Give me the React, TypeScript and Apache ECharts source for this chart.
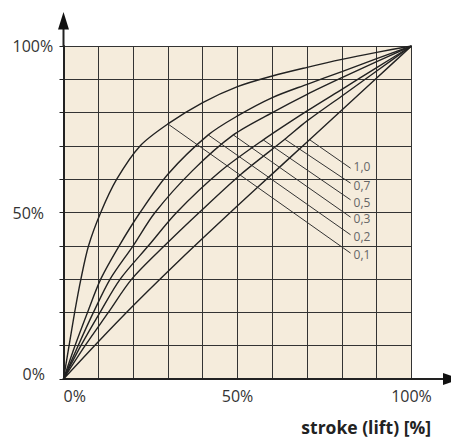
import React, { useEffect, useRef } from "react";
import * as echarts from "echarts";

// Curve values: [stroke %, flow %]
const curve10 = [[0, 0], [10, 11.2], [20, 22], [30, 32.3], [40, 42.3], [50, 52], [60, 61.6], [70, 71.2], [80, 80.8], [90, 90.4], [100, 100]];
const curve07 = [[0, 0], [6.2, 10], [12.9, 20], [19.6, 30], [29, 40], [39, 50], [51, 61.5], [63.6, 72], [70, 77.5], [80, 85], [90, 92.5], [100, 100]];
const curve05 = [[0, 0], [5, 10], [10.5, 20], [16.3, 30], [24.4, 40], [32.5, 50], [45, 62.3], [57.4, 71.8], [70, 80.5], [80, 87], [90, 93.5], [100, 100]];
const curve03 = [[0, 0], [4.2, 10], [8.6, 20], [13.4, 30], [20, 40], [26.3, 50], [37, 62.5], [48.8, 73.3], [60, 80], [70, 85.5], [80, 90.5], [90, 95.3], [100, 100]];
const curve02 = [[0, 0], [3.3, 10], [6.9, 20], [10.7, 30], [16, 40], [22, 50], [30, 61.5], [41.6, 73.3], [50, 79], [60, 84.5], [70, 88.5], [80, 92.3], [90, 96.2], [100, 100]];
const curve01 = [[0, 0], [1.6, 10], [3.2, 20], [5.0, 30], [7.2, 40], [10.7, 50], [15.3, 60], [22, 70], [30, 76.6], [40, 83], [50, 87.8], [60, 91], [70, 93.6], [80, 96], [90, 98.1], [100, 100]];

const curveLabels = ["1,0", "0,7", "0,5", "0,3", "0,2", "0,1"];
const curves = [curve10, curve07, curve05, curve03, curve02, curve01];

// Leader lines: start on curve, end at label
const leaderStarts = [[70.8, 71.8], [63.6, 72.0], [57.4, 71.8], [48.8, 73.3], [41.6, 73.3], [30, 76.6]];
const leaderEnds = [[82.5, 63.3], [82.5, 58.8], [82.5, 53.8], [82.5, 48.6], [82.5, 43.3], [82.5, 37.8]];
const labelShiftY = [-1.6, 2.7, 2.8, 1.4, 1.7, 1.7];

const xLabelValues = [0, 50, 100];
const yLabelValues = [0, 50, 100];
const xTitle = "stroke (lift) [%]";

const FONT = "Open Sans";

export default function App() {
  const ref = useRef<HTMLDivElement>(null);
  useEffect(() => {
    if (!ref.current) return;
    const chart = echarts.init(ref.current, undefined, { renderer: "svg" });
    const curveSeries = curves.map((c, i) => ({
      type: "line",
      name: curveLabels[i],
      data: c,
      symbol: "none",
      smooth: 0.3,
      itemStyle: { color: "#222" },
      lineStyle: { color: "#222", width: 1.4 },
      z: 3,
      silent: true,
    }));
    const leaderSeries = leaderStarts.map((s, i) => ({
      type: "line",
      name: "leader " + curveLabels[i],
      data: [s, leaderEnds[i]],
      symbol: "none",
      itemStyle: { color: "#333" },
      lineStyle: { color: "#333", width: 1 },
      z: 3,
      silent: true,
      endLabel: {
        show: true,
        formatter: () => curveLabels[i],
        color: "#666666",
        fontSize: 12,
        lineHeight: 12,
        fontFamily: FONT,
        distance: 3,
        offset: [0, labelShiftY[i]],
      },
    }));
    chart.setOption({
      animation: false,
      grid: {
        left: 63.5,
        top: 46,
        width: 348,
        height: 333,
        show: true,
        backgroundColor: "#f5ecdc",
        borderWidth: 0,
      },
      xAxis: {
        type: "value",
        min: 0,
        max: 100,
        interval: 10,
        axisLine: { show: true, lineStyle: { color: "#222", width: 2 } },
        axisTick: { show: false },
        splitLine: { show: true, lineStyle: { color: "#333", width: 1 } },
        axisLabel: {
          formatter: (v: number) => (xLabelValues.includes(v) ? v + "%" : ""),
          alignMinLabel: "left",
          fontSize: 16,
          color: "#333",
          fontFamily: FONT,
          margin: 9,
          showMinLabel: true,
          showMaxLabel: true,
        },
      },
      yAxis: {
        type: "value",
        min: 0,
        max: 100,
        interval: 10,
        axisLine: { show: true, lineStyle: { color: "#222", width: 2 } },
        axisTick: { show: true, length: 4, lineStyle: { color: "#222", width: 1 } },
        splitLine: { show: true, lineStyle: { color: "#333", width: 1 } },
        axisLabel: {
          align: "left",
          margin: 51,
          showMinLabel: true,
          showMaxLabel: true,
          formatter: (v: number) =>
            v === 0 ? "{z|0%}" : yLabelValues.includes(v) ? "{a|" + v + "%}" : "",
          rich: {
            a: { fontSize: 16, color: "#333", fontFamily: FONT },
            z: { fontSize: 16, color: "#333", fontFamily: FONT, padding: [0, 0, 11, 10] },
          },
        },
      },
      graphic: [
        { type: "line", shape: { x1: 63.5, y1: 47, x2: 63.5, y2: 28 }, style: { stroke: "#222", lineWidth: 2 } },
        { type: "polygon", shape: { points: [[63.5, 12], [58, 29.5], [69, 29.5]] }, style: { fill: "#111" } },
        { type: "line", shape: { x1: 411, y1: 379, x2: 444, y2: 379 }, style: { stroke: "#222", lineWidth: 2 } },
        { type: "polygon", shape: { points: [[460, 379], [443, 373], [443, 385]] }, style: { fill: "#111" } },
        {
          type: "text",
          style: {
            x: 431,
            y: 427,
            text: xTitle,
            align: "right",
            verticalAlign: "middle",
            fontSize: 17.5,
            lineHeight: 18,
            fontWeight: "bold",
            fontFamily: FONT,
            fill: "#222",
          },
        },
      ],
      series: [...curveSeries, ...leaderSeries],
    });
    return () => chart.dispose();
  }, []);
  return (
    <div
      ref={ref}
      style={{ position: "fixed", left: 0, top: 0, width: 451, height: 438, background: "#fff" }}
    />
  );
}
